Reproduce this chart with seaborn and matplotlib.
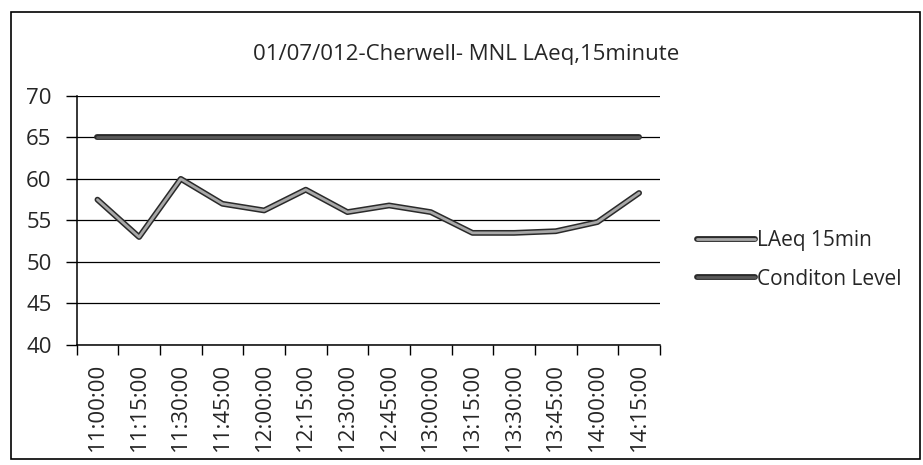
import matplotlib
matplotlib.use("Agg")
import matplotlib.pyplot as plt
import matplotlib.patheffects as pe
from matplotlib.patches import Rectangle
import seaborn as sns
import pandas as pd
import numpy as np

# values
times = ["11:00:00", "11:15:00", "11:30:00", "11:45:00", "12:00:00", "12:15:00", "12:30:00",
         "12:45:00", "13:00:00", "13:15:00", "13:30:00", "13:45:00", "14:00:00", "14:15:00"]
laeq = [57.5, 53.0, 60.0, 57.0, 56.2, 58.7, 56.0, 56.8, 56.0, 53.5, 53.5, 53.7, 54.8, 58.3]
condition = [65, 65, 65, 65, 65, 65, 65, 65, 65, 65, 65, 65, 65, 65]
y_ticks = [40, 45, 50, 55, 60, 65, 70]

df = pd.DataFrame({"time": times, "LAeq 15min": laeq, "Conditon Level": condition})

sns.set_theme(style="white")
plt.rcParams["font.family"] = ["Open Sans", "DejaVu Sans"]

fig = plt.figure(figsize=(9.23, 4.65), dpi=100)
ax = fig.add_axes([0.083, 0.258, 0.632, 0.536])

# thin black gridlines like the Excel original
for v in y_ticks:
    ax.axhline(v, color="black", lw=0.9, zorder=1)

outline = [pe.Stroke(linewidth=4.2, foreground="#2a2a2a"), pe.Normal()]
sns.lineplot(data=df, x="time", y="LAeq 15min", ax=ax, color="#a8a8a8", lw=2.0,
             path_effects=outline, label="LAeq 15min", zorder=3, sort=False)
sns.lineplot(data=df, x="time", y="Conditon Level", ax=ax, color="#5a5a5a", lw=2.0,
             path_effects=outline, label="Conditon Level", zorder=3, sort=False)

ax.set_xlim(-0.5, len(times) - 0.5)
ax.set_ylim(40, 70)
ax.set_yticks(y_ticks)
ax.set_xticks(range(len(times)))
ax.set_xticklabels(times, rotation=90, fontsize=16)
ax.set_xticks(np.arange(-0.5, len(times)), minor=True)
ax.tick_params(axis="x", which="major", length=0, pad=13)
ax.tick_params(axis="x", which="minor", length=7, width=1, color="black", direction="out", bottom=True)
ax.tick_params(axis="y", length=8, width=1, color="black", direction="out", left=True, labelsize=16, pad=10)
ax.set_xlabel("")
ax.set_ylabel("")

for side in ["top", "right"]:
    ax.spines[side].set_visible(False)
for side in ["left", "bottom"]:
    ax.spines[side].set_color("black")
    ax.spines[side].set_linewidth(1.1)

leg = ax.legend(loc="center left", bbox_to_anchor=(697 / 923, 0.441), bbox_transform=fig.transFigure,
                frameon=False, fontsize=15, borderpad=0, borderaxespad=0,
                handlelength=2.8, handletextpad=0.1, labelspacing=0.85)

fig.text(0.505, 0.882, "01/07/012-Cherwell- MNL LAeq,15minute", ha="center", va="center", fontsize=16)

# outer chart border
fig.add_artist(Rectangle((0.012, 0.012), 0.985, 0.962, transform=fig.transFigure,
                         fill=False, edgecolor="black", lw=1.2))

fig.savefig("out.png", dpi=100)
